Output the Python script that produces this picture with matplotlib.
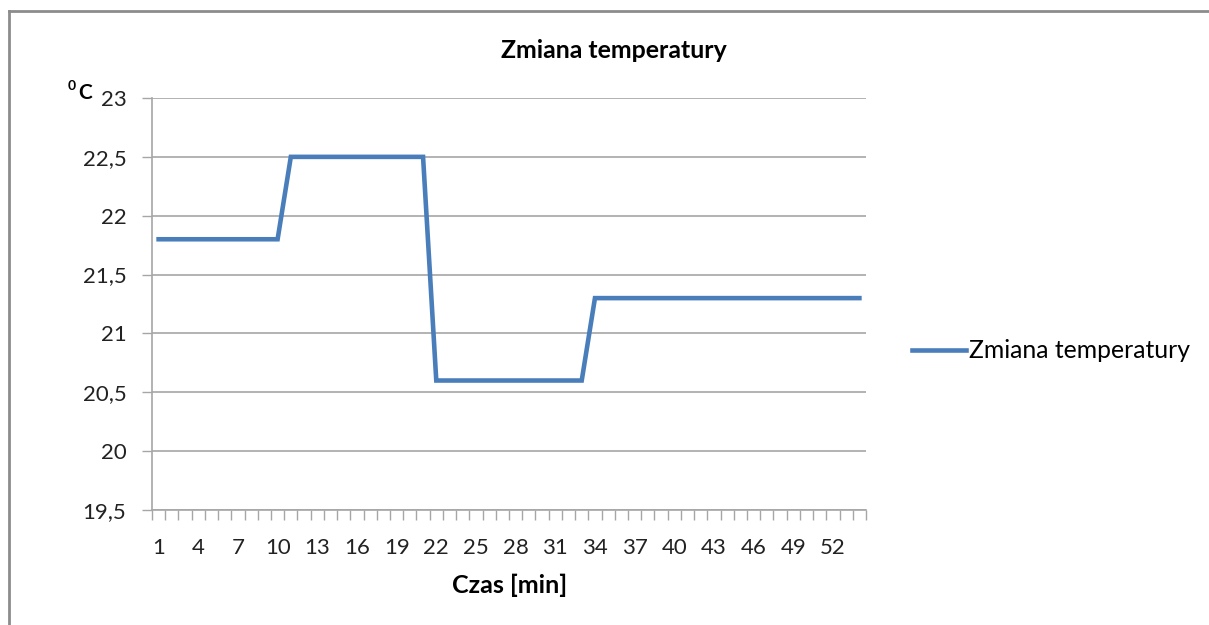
import matplotlib
matplotlib.use("Agg")
import matplotlib.pyplot as plt
from matplotlib.lines import Line2D
from matplotlib.ticker import FixedLocator, FuncFormatter

plt.rcParams['font.family'] = ['Lato', 'DejaVu Sans']

# Minutes 1..54 and the recorded temperature at each minute
minutes = list(range(1, 55))
temperature = ([21.8] * 10 + [22.5] * 11 + [20.6] * 12 + [21.3] * 21)
series_name = "Zmiana temperatury"
x_labels = list(range(1, 55, 3))
y_ticks = [19.5, 20, 20.5, 21, 21.5, 22, 22.5, 23]

W, H = 1209, 625
fig = plt.figure(figsize=(W / 100, H / 100), dpi=100)
ax = fig.add_axes([152 / W, 1 - 510 / H, (866 - 152) / W, (510 - 98) / H])

grid_c = "#a6a6a6"
line_c = "#4a7ebb"

ax.plot(minutes, temperature, color=line_c, lw=3.3, solid_joinstyle="miter",
        label=series_name, zorder=3)

ax.set_xlim(0.5, len(minutes) + 0.5)
ax.set_ylim(19.5, 23)

ax.xaxis.set_major_locator(FixedLocator(x_labels))
ax.xaxis.set_minor_locator(FixedLocator([m + 0.5 for m in [0] + minutes]))
ax.tick_params(axis="x", which="major", length=0, pad=20, labelsize=16)
ax.tick_params(axis="x", which="minor", length=7, width=1, color=grid_c)

ax.set_yticks(y_ticks)
ax.yaxis.set_major_formatter(FuncFormatter(lambda v, p: f"{v:g}".replace(".", ",")))
ax.tick_params(axis="y", length=7, width=1, color=grid_c, pad=11.5, labelsize=16)
for lab in ax.get_xticklabels() + ax.get_yticklabels():
    lab.set_color("#222222")

ax.grid(axis="y", color=grid_c, lw=1.2)
ax.set_axisbelow(True)
for side in ("top", "right"):
    ax.spines[side].set_visible(False)
for side in ("left", "bottom"):
    ax.spines[side].set_color(grid_c)
    ax.spines[side].set_linewidth(1.2)

fig.text(510 / W, 1 - 585 / H, "Czas [min]", ha="center", va="center",
         fontsize=18, fontweight="bold")
fig.text(614 / W, 1 - 50 / H, "Zmiana temperatury", ha="center", va="center",
         fontsize=17.9, fontweight="bold")

# unit label with superscript zero
fig.text(68 / W, 1 - 86 / H, "0", ha="left", va="center", fontsize=10, fontweight="bold")
fig.text(78 / W, 1 - 93 / H, "C", ha="left", va="center", fontsize=15, fontweight="bold")

leg = ax.legend(loc="center left", bbox_to_anchor=(912 / W, 1 - 351 / H),
                bbox_transform=fig.transFigure, frameon=False, fontsize=17.8,
                handlelength=2.2, handletextpad=0.12, borderpad=0, borderaxespad=0)

# outer chart frame (left and top edges)
fig.add_artist(Line2D([9 / W, 9 / W], [0, 1 - 11 / H], transform=fig.transFigure,
                      color="#8c8c8c", lw=2))
fig.add_artist(Line2D([9 / W, 1], [1 - 11 / H, 1 - 11 / H], transform=fig.transFigure,
                      color="#8c8c8c", lw=2))

fig.savefig("out.png", dpi=100)
